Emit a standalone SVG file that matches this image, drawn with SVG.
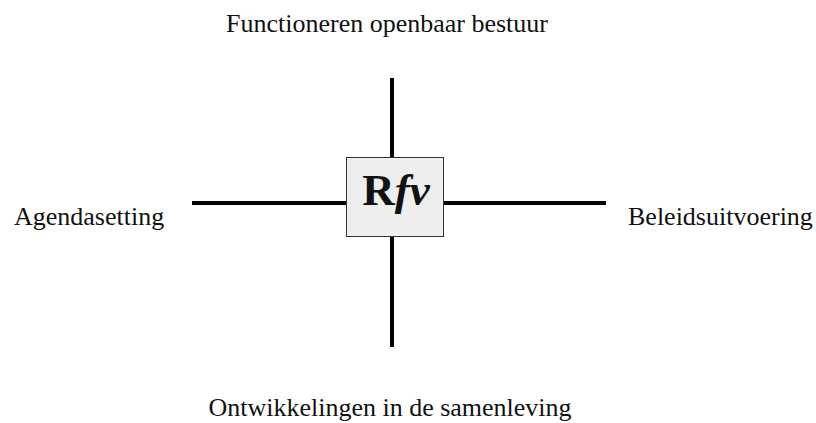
<svg xmlns="http://www.w3.org/2000/svg" width="816" height="423" viewBox="0 0 816 423">
<style>
.lbl{font-family:"Liberation Serif","Times New Roman",serif;font-size:26px;fill:#111}
.ln{stroke:#000;stroke-width:4;fill:none}
</style>
<rect width="816" height="423" fill="#fff"/>
<g id="connectors">
<line class="ln" x1="392" y1="78" x2="392" y2="157"/>
<line class="ln" x1="392" y1="236" x2="392" y2="347"/>
<line class="ln" x1="192" y1="203" x2="346" y2="203"/>
<line class="ln" x1="444" y1="203" x2="606" y2="203"/>
</g>
<g id="center">
<rect x="346.5" y="157.5" width="97" height="79" fill="#eeeeee" stroke="#333" stroke-width="1"/>
<text x="396" y="205" text-anchor="middle" font-family="Liberation Serif,serif" font-weight="bold" font-size="45" fill="#111">R<tspan font-style="italic">fv</tspan></text>
</g>
<g id="top"><text class="lbl" x="387" y="32" text-anchor="middle">Functioneren openbaar bestuur</text></g>
<g id="bottom"><text class="lbl" x="390" y="416" text-anchor="middle">Ontwikkelingen in de samenleving</text></g>
<g id="left"><text class="lbl" x="14" y="225">Agendasetting</text></g>
<g id="right"><text class="lbl" x="628" y="225">Beleidsuitvoering</text></g>
</svg>
